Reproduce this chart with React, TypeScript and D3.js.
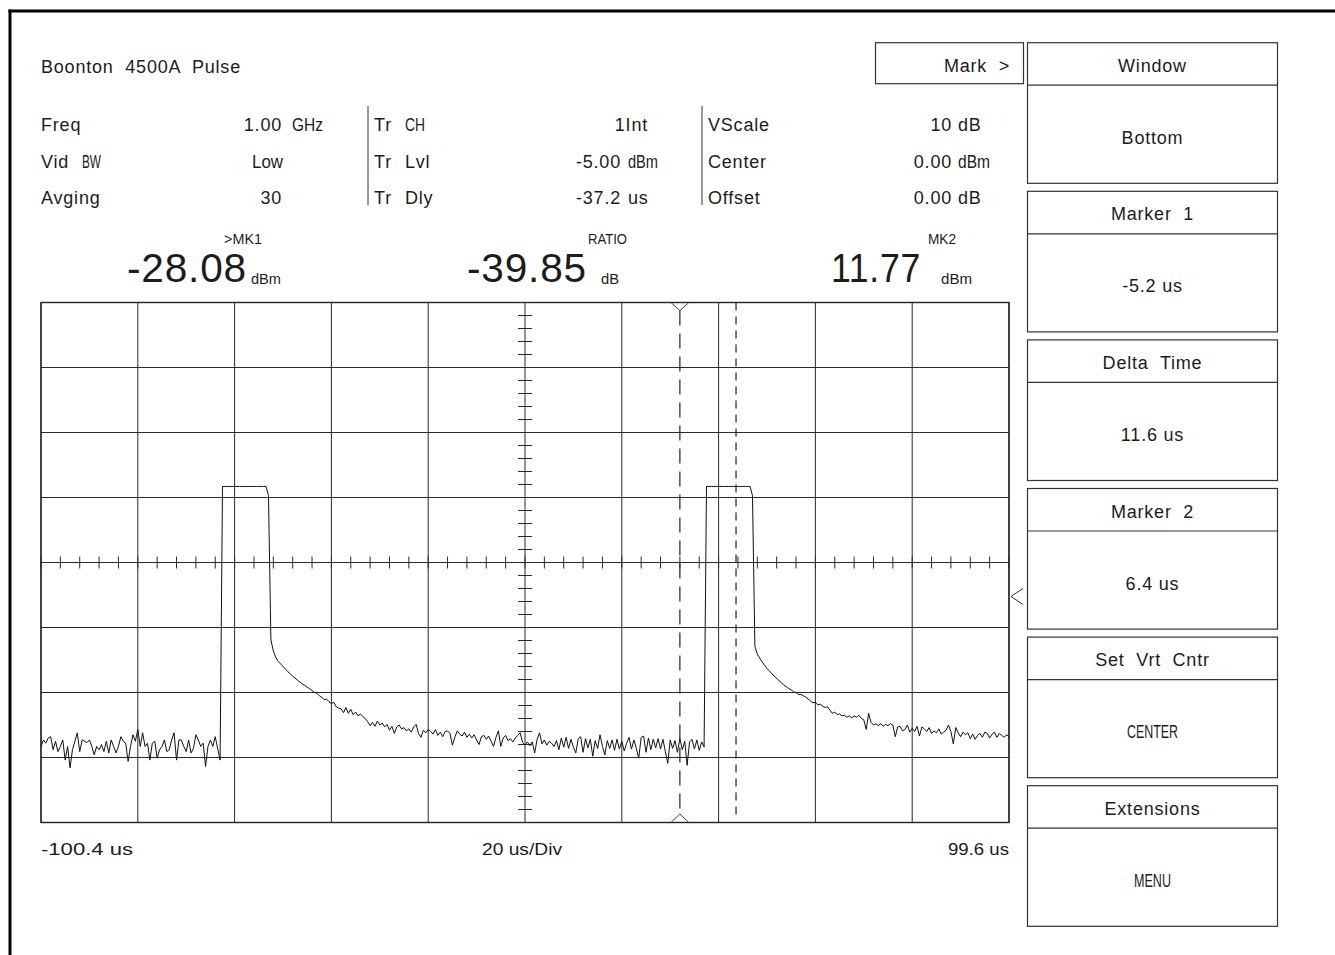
import React from "react";
import * as d3 from "d3";

// ---------- data ----------
const TIME_START_US = -100.4;
const TIME_END_US = 99.6;
const SAMPLE_US = 0.5;
const US_PER_DIV = 20;
const CENTER_DBM = 0;
const DB_PER_DIV = 10;
const H_DIVS = 10;
const V_DIVS = 8;

// trace samples (dBm), 0.5 us apart
const floorA = [
  -28.3, -27.3, -27.8, -27.0, -26.8, -28.8, -27.5, -29.1, -28.3, -27.3,
  -30.4, -28.3, -31.6, -28.8, -27.5, -26.2, -29.1, -27.3, -27.5, -27.7,
  -27.3, -28.3, -29.6, -28.3, -28.8, -28.0, -29.1, -27.5, -29.3, -27.3,
  -28.3, -29.3, -28.3, -26.8, -27.5, -27.8, -30.6, -28.3, -26.5, -27.5,
  -25.7, -28.3, -26.2, -28.3, -27.8, -30.4, -27.8, -27.5, -30.1, -28.8,
  -28.3, -27.3, -29.1, -28.8, -27.3, -26.2, -30.4, -27.3, -27.3, -28.3,
  -29.1, -27.3, -29.3, -28.6, -26.5, -27.3, -28.3, -27.8, -31.4, -28.3,
  -27.3, -28.3, -26.8, -28.6, -30.4,
];
const pulseA = [
  11.7, 11.7, 11.7, 11.7, 11.7, 11.7, 11.7, 11.7, 11.7, 11.7,
  11.7, 11.7, 11.7, 11.7, 11.7, 11.7, 11.7, 11.7, 11.7, 10.3,
];
const tailA = [
  -11.9, -13.6, -14.6, -15.2, -15.6, -16.0, -16.4, -16.8, -17.1, -17.5,
  -17.8, -18.1, -18.4, -18.7, -18.9, -19.2, -19.4, -19.7, -20.0, -20.1,
  -20.5, -20.7, -21.1, -21.0, -21.4, -21.7, -21.5, -22.2, -22.4, -22.5,
  -23.1, -22.3, -23.2, -22.6, -23.4, -23.0, -23.6, -23.3, -23.7, -24.0,
  -24.5, -25.1, -24.6, -25.2, -24.4, -25.0, -24.7, -25.3, -24.9, -25.8,
  -25.2, -26.3, -25.3, -25.0, -25.6, -25.4, -25.9, -25.6, -26.1, -25.3,
  -24.9, -26.3, -26.9, -25.8, -26.2, -25.7, -26.0, -26.4, -25.7, -26.6,
  -26.1, -26.8, -26.0, -25.9, -26.3, -28.1, -26.9, -25.9, -26.4, -26.7,
  -26.1, -26.9, -26.4, -27.0, -26.5, -27.3, -28.0, -26.8, -26.6, -27.2,
  -26.7, -27.5, -28.3, -26.9, -25.9, -28.3, -27.0, -26.6, -27.4, -27.1,
  -27.6, -27.0, -26.6, -26.2, -27.7, -28.1, -27.6, -28.2, -27.6, -29.3,
  -27.2, -26.2, -27.9, -27.3, -28.1, -27.5, -27.8, -28.3, -27.4, -28.8,
  -27.0, -28.4, -26.9, -28.6, -27.2, -28.4, -29.3, -27.1, -26.8, -29.2,
  -27.1, -28.5, -27.2, -29.8, -27.4, -28.6, -26.5, -28.3, -29.6, -27.4,
  -28.6, -27.3, -28.9, -27.2, -28.7, -27.5, -29.0, -27.8, -26.9, -28.7,
  -27.3, -28.6, -30.1, -26.9, -26.7, -29.2, -27.0, -28.8, -27.2, -28.5,
  -27.1, -28.7, -27.2, -29.1, -30.9, -27.3, -28.6, -27.4, -29.2, -27.1,
  -28.8, -27.5, -31.2, -27.6, -27.2, -28.7, -27.3, -28.9, -27.6, -28.4,
];
const pulseB = [
  11.7, 11.7, 11.7, 11.7, 11.7, 11.7, 11.7, 11.7, 11.7, 11.7,
  11.7, 11.7, 11.7, 11.7, 11.7, 11.7, 11.7, 11.7, 11.7, 10.3,
];
const tailB = [
  -12.9, -14.1, -14.7, -15.3, -15.8, -16.3, -16.7, -17.1, -17.5, -17.8,
  -18.2, -18.5, -18.9, -19.1, -19.4, -19.6, -19.9, -20.0, -20.3, -20.3,
  -20.5, -20.7, -21.0, -21.3, -21.6, -21.5, -21.9, -21.8, -22.1, -22.3,
  -22.2, -22.7, -23.2, -23.0, -23.4, -23.3, -23.6, -23.5, -23.8, -23.6,
  -23.9, -23.6, -23.8, -23.5, -24.0, -24.2, -25.7, -23.2, -24.6, -25.0,
  -24.8, -25.1, -24.8, -25.2, -24.9, -25.1, -24.8, -25.0, -26.8, -25.3,
  -25.2, -25.9, -25.7, -25.0, -26.1, -25.5, -26.0, -25.2, -26.7, -25.3,
  -25.6, -26.0, -25.4, -26.3, -25.9, -26.2, -25.6, -26.4, -26.1, -25.8,
  -25.0, -26.0, -27.9, -25.4, -26.2, -26.8, -26.1, -26.5, -26.2, -27.1,
  -26.4, -27.2, -26.6, -26.3, -26.9, -26.1, -26.3, -27.0, -26.4, -26.1,
  -26.9, -26.3, -26.6, -26.9, -26.5, -26.8,
];

const markerTimesUs = [31.6, 43.2];

const title = "Boonton  4500A  Pulse";
const col1Labels = ["Freq", "Vid", "Avging"];
const col1Subs = ["", "BW", ""];
const col1Values = ["1.00", "Low", "30"];
const col1Units = ["GHz", "", ""];
const col2Labels = ["Tr", "Tr", "Tr"];
const col2Subs = ["CH", "Lvl", "Dly"];
const col2Values = ["1Int", "-5.00", "-37.2"];
const col2Units = ["", "dBm", "us"];
const col3Labels = ["VScale", "Center", "Offset"];
const col3Values = ["10", "0.00", "0.00"];
const col3Units = ["dB", "dBm", "dB"];

const readoutTags = [">MK1", "RATIO", "MK2"];
const readoutValues = ["-28.08", "-39.85", "11.77"];
const readoutUnits = ["dBm", "dB", "dBm"];

const axisLeftLabel = "-100.4 us";
const axisMidLabel = "20 us/Div";
const axisRightLabel = "99.6 us";

const softkeyTitles = ["Window", "Marker  1", "Delta  Time", "Marker  2", "Set  Vrt  Cntr", "Extensions"];
const softkeyValues = ["Bottom", "-5.2 us", "11.6 us", "6.4 us", "CENTER", "MENU"];
const softkeyNarrow = [false, false, false, false, true, true];
const markButton = "Mark  >";

// ---------- drawing ----------
const SANS = "'Liberation Sans', Arial, Helvetica, sans-serif";
const NARROW = "'Liberation Sans Narrow', 'Liberation Sans', Arial, sans-serif";
const INK = "#1c1c1c";

function Txt(p: any) {
  const { x, y, s, size = 18, anchor = "start", narrow = false, w, ls } = p;
  return (
    <text
      x={x}
      y={y}
      fontSize={size}
      textAnchor={anchor}
      fontFamily={narrow ? NARROW : SANS}
      letterSpacing={ls ?? (narrow ? 0 : 0.8)}
      textLength={w}
      lengthAdjust={w ? "spacingAndGlyphs" : undefined}
      fill={INK}
      style={{ whiteSpace: "pre" }}
    >
      {s}
    </text>
  );
}

export default function App() {
  const W = 1335, H = 955;
  const PX0 = 41, PX1 = 1009, PY0 = 302.5, PY1 = 822.5;

  const x = d3.scaleLinear().domain([TIME_START_US, TIME_END_US]).range([PX0, PX1]);
  const y = d3
    .scaleLinear()
    .domain([CENTER_DBM - (V_DIVS / 2) * DB_PER_DIV, CENTER_DBM + (V_DIVS / 2) * DB_PER_DIV])
    .range([PY1, PY0]);

  const trace = [...floorA, ...pulseA, ...tailA, ...pulseB, ...tailB];
  const line = d3
    .line<number>()
    .x((_, i) => x(TIME_START_US + i * SAMPLE_US))
    .y((d) => y(d));

  const xGrid = d3.range(H_DIVS + 1).map((i) => TIME_START_US + i * US_PER_DIV);
  const yGrid = d3.range(V_DIVS + 1).map((i) => CENTER_DBM - (V_DIVS / 2) * DB_PER_DIV + i * DB_PER_DIV);
  const tCenter = TIME_START_US + (H_DIVS / 2) * US_PER_DIV;
  const xMinor = d3.range(H_DIVS * 5 + 1).map((i) => TIME_START_US + (i * US_PER_DIV) / 5);
  const yMinor = d3.range(V_DIVS * 5 + 1).map((i) => y.domain()[0] + (i * DB_PER_DIV) / 5);

  const rowsY = [131, 167.5, 204];
  const [m1, m2] = markerTimesUs.map((t) => x(t));

  const keyTop = 42.7, keyStep = 148.6, keyH = 140.6, keyX = 1027.5, keyW = 250;
  const keyCx = keyX + keyW / 2;

  const readoutPos = [
    { vx: 127, vw: 120, tx: 224, tw: 38, ux: 251, uw: 30 },
    { vx: 467, vw: 120, tx: 588, tw: 39, ux: 601, uw: 18 },
    { vx: 831, vw: 90, tx: 928, tw: 28, ux: 941, uw: 31 },
  ];

  return (
    <svg width={W} height={H} style={{ position: "absolute", left: 0, top: 0, background: "#fff" }}>
      <rect x={0} y={0} width={W} height={H} fill="#fff" />
      {/* outer frame */}
      <line x1={8.5} y1={11} x2={W} y2={11} stroke="#000" strokeWidth={3} />
      <line x1={10} y1={9.5} x2={10} y2={H} stroke="#000" strokeWidth={3} />

      {/* header */}
      <Txt x={41} y={73} s={title} />
      {rowsY.map((ry, i) => (
        <g key={"c1" + i}>
          <Txt x={41} y={ry} s={col1Labels[i]} />
          {col1Subs[i] && <Txt x={82} y={ry} s={col1Subs[i]} narrow w={19} />}
          {i === 1 ? (
            <Txt x={283} y={ry} s={col1Values[i]} anchor="end" narrow w={31} />
          ) : (
            <Txt x={282} y={ry} s={col1Values[i]} anchor="end" />
          )}
          {col1Units[i] && <Txt x={292} y={ry} s={col1Units[i]} narrow w={31} />}
        </g>
      ))}
      <line x1={368} y1={106} x2={368} y2={205} stroke="#555" strokeWidth={1.2} />
      {rowsY.map((ry, i) => (
        <g key={"c2" + i}>
          <Txt x={374} y={ry} s={col2Labels[i]} />
          {i === 0 ? <Txt x={405} y={ry} s={col2Subs[i]} narrow w={20} /> : <Txt x={405} y={ry} s={col2Subs[i]} />}
          {i === 0 ? (
            <Txt x={648} y={ry} s={col2Values[i]} anchor="end" />
          ) : (
            <Txt x={621} y={ry} s={col2Values[i]} anchor="end" />
          )}
          {col2Units[i] === "dBm" && <Txt x={628} y={ry} s={col2Units[i]} narrow w={30} />}
          {col2Units[i] === "us" && <Txt x={628} y={ry} s={col2Units[i]} />}
        </g>
      ))}
      <line x1={702} y1={106} x2={702} y2={205} stroke="#555" strokeWidth={1.2} />
      {rowsY.map((ry, i) => (
        <g key={"c3" + i}>
          <Txt x={708} y={ry} s={col3Labels[i]} />
          <Txt x={952} y={ry} s={col3Values[i]} anchor="end" />
          {col3Units[i] === "dBm" ? (
            <Txt x={958} y={ry} s={col3Units[i]} narrow w={32} />
          ) : (
            <Txt x={958} y={ry} s={col3Units[i]} />
          )}
        </g>
      ))}

      {/* readouts */}
      {readoutPos.map((p, i) => (
        <g key={"ro" + i}>
          <Txt x={p.tx} y={244} s={readoutTags[i]} size={15} narrow w={p.tw} />
          <Txt x={p.vx} y={282} s={readoutValues[i]} size={40} w={p.vw} />
          <Txt x={p.ux} y={284} s={readoutUnits[i]} size={14} narrow w={p.uw} />
        </g>
      ))}

      {/* plot grid */}
      {xGrid.map((t, i) => (
        <line key={"gx" + i} x1={x(t)} x2={x(t)} y1={PY0} y2={PY1} stroke="#2a2a2a" strokeWidth={1} />
      ))}
      {yGrid.map((v, i) => (
        <line key={"gy" + i} x1={PX0} x2={PX1} y1={y(v)} y2={y(v)} stroke="#2a2a2a" strokeWidth={1} />
      ))}
      <rect x={PX0} y={PY0} width={PX1 - PX0} height={PY1 - PY0} fill="none" stroke="#222" strokeWidth={1.4} />
      {xMinor.map((t, i) => (
        <line key={"mx" + i} x1={x(t)} x2={x(t)} y1={y(CENTER_DBM) - 6} y2={y(CENTER_DBM) + 6} stroke="#2a2a2a" strokeWidth={1} />
      ))}
      {yMinor.map((v, i) => (
        <line key={"my" + i} x1={x(tCenter) - 7} x2={x(tCenter) + 7} y1={y(v)} y2={y(v)} stroke="#2a2a2a" strokeWidth={1} />
      ))}

      {/* markers */}
      <path d={`M${m1 - 9},${PY0} L${m1},${PY0 + 8} L${m1 + 9},${PY0}`} fill="none" stroke="#444" strokeWidth={1} />
      <path d={`M${m1 - 9},${PY1} L${m1},${PY1 - 8.5} L${m1 + 9},${PY1}`} fill="none" stroke="#444" strokeWidth={1} />
      <line x1={m1} x2={m1} y1={PY0 + 8} y2={PY1 - 8.5} stroke="#222" strokeWidth={1.2} strokeDasharray="15,8" />
      <line x1={m2} x2={m2} y1={PY0} y2={PY1 - 8} stroke="#222" strokeWidth={1.2} strokeDasharray="8,6" />

      {/* trace */}
      <path d={line(trace) || ""} fill="none" stroke="#111" strokeWidth={1} />

      {/* center reference arrow */}
      <path
        d={`M${PX1 + 14},${y(CENTER_DBM) + 26} L${PX1 + 2},${y(CENTER_DBM) + 34} L${PX1 + 14},${y(CENTER_DBM) + 42}`}
        fill="none"
        stroke="#333"
        strokeWidth={1}
      />

      {/* axis labels */}
      <Txt x={41} y={855} s={axisLeftLabel} size={17} narrow w={92} />
      <Txt x={482} y={855} s={axisMidLabel} size={17} narrow w={80} />
      <Txt x={1009} y={855} s={axisRightLabel} size={17} narrow w={61} anchor="end" />

      {/* mark button */}
      <rect x={875.5} y={keyTop} width={148} height={41} fill="none" stroke="#333" strokeWidth={1.2} />
      <Txt x={1010} y={72} s={markButton} anchor="end" />

      {/* softkeys */}
      {softkeyTitles.map((t, i) => {
        const top = keyTop + i * keyStep;
        return (
          <g key={"sk" + i}>
            <rect x={keyX} y={top} width={keyW} height={keyH} fill="none" stroke="#333" strokeWidth={1.2} />
            <line x1={keyX} x2={keyX + keyW} y1={top + 42.5} y2={top + 42.5} stroke="#333" strokeWidth={1.2} />
            <Txt x={keyCx} y={top + 29} s={t} anchor="middle" />
            {softkeyNarrow[i] ? (
              <Txt x={keyCx} y={top + 101} s={softkeyValues[i]} anchor="middle" narrow w={i === 4 ? 51 : 37} />
            ) : (
              <Txt x={keyCx} y={top + 101} s={softkeyValues[i]} anchor="middle" />
            )}
          </g>
        );
      })}
    </svg>
  );
}
